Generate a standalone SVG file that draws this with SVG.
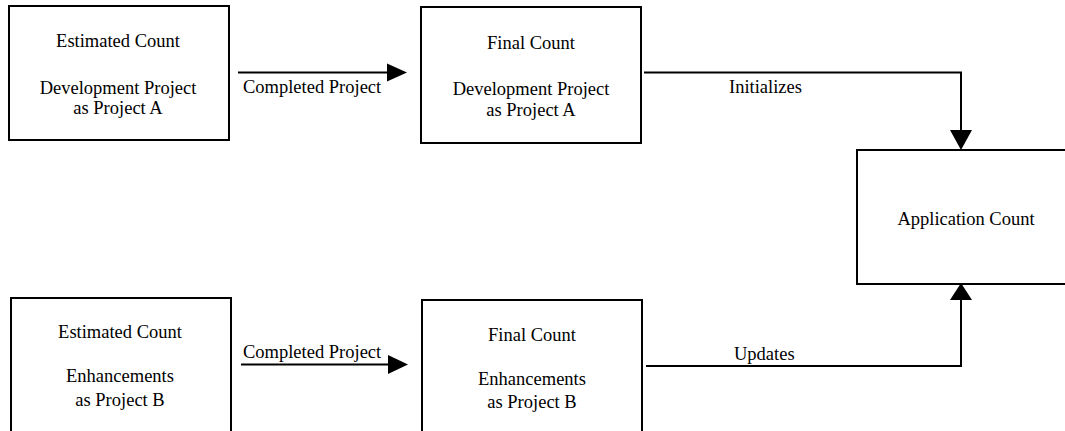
<svg xmlns="http://www.w3.org/2000/svg" width="1065" height="431" viewBox="0 0 1065 431">
  <style>
    .box { fill: #fff; stroke: #000; stroke-width: 2; }
    .wire { fill: none; stroke: #000; stroke-width: 2; }
    .head { fill: #000; stroke: none; }
    text { font-family: "Liberation Serif", "Times New Roman", serif; font-size: 18.5px; fill: #000; }
    .c { text-anchor: middle; }
  </style>
  <rect width="1065" height="431" fill="#fff"/>

  <g id="connectors">
    <line class="wire" x1="238" y1="72.5" x2="390" y2="72.5"/>
    <polygon class="head" points="387,63.5 407,72.5 387,81.5"/>
    <text x="243" y="93">Completed Project</text>

    <line class="wire" x1="241" y1="364.5" x2="391" y2="364.5"/>
    <polygon class="head" points="388,355 408,364.5 388,374"/>
    <text x="243" y="358">Completed Project</text>

    <polyline class="wire" points="644,72.5 961,72.5 961,132"/>
    <polygon class="head" points="950,130 961,150 972,130"/>
    <text x="729" y="93">Initializes</text>

    <polyline class="wire" points="646,366 961,366 961,298"/>
    <polygon class="head" points="950,300 961,283 972,300"/>
    <text x="734" y="360">Updates</text>
  </g>

  <g id="estimated-a">
    <rect class="box" x="9" y="6" width="220" height="134"/>
    <text class="c" x="118" y="47">Estimated Count</text>
    <text class="c" x="118" y="94">Development Project</text>
    <text class="c" x="118" y="114">as Project A</text>
  </g>

  <g id="final-a">
    <rect class="box" x="421" y="7" width="220" height="136"/>
    <text class="c" x="531" y="49">Final Count</text>
    <text class="c" x="531" y="95">Development Project</text>
    <text class="c" x="531" y="116">as Project A</text>
  </g>

  <g id="application">
    <rect class="box" x="857" y="150" width="220" height="134"/>
    <text class="c" x="966" y="225">Application Count</text>
  </g>

  <g id="estimated-b">
    <rect class="box" x="11" y="298" width="220" height="160"/>
    <text class="c" x="120" y="338">Estimated Count</text>
    <text class="c" x="120" y="382">Enhancements</text>
    <text class="c" x="120" y="406">as Project B</text>
  </g>

  <g id="final-b">
    <rect class="box" x="422" y="300" width="220" height="160"/>
    <text class="c" x="532" y="341">Final Count</text>
    <text class="c" x="532" y="385">Enhancements</text>
    <text class="c" x="532" y="408">as Project B</text>
  </g>
</svg>
